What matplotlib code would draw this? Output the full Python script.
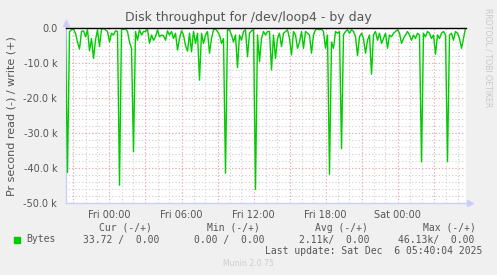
import numpy as np
import pandas as pd
import matplotlib
matplotlib.use("Agg")
import matplotlib.pyplot as plt

W, H = 497, 275

# 数据：读 (负) 吞吐量，单位 k，每 10 分钟一个点
start = "2025-12-04 20:20"
read_k = [
    -0.5, -41.3, -1.0, -0.5, -0.3, -1.5, -4.0, -6.0, -1.0, -0.8,
    -2.5, -0.5, -6.5, -3.0, -8.7, -3.5, -0.5, -5.3, -0.3, -0.2,
    -0.5, -1.0, -4.0, -1.5, -2.0, -0.8, -1.0, -44.9, -0.3, -0.4,
    -0.2, -1.0, -4.0, -5.8, -35.3, -1.0, -3.5, -0.5, -2.0, -1.0,
    -1.0, -0.3, -4.4, -2.0, -3.5, -2.5, -0.5, -2.5, -2.0, -2.2,
    -3.5, -0.8, -2.0, -1.0, -3.0, -1.5, -6.3, -3.0, -0.8, -2.0,
    -5.0, -6.6, -1.5, -6.8, -1.0, -4.4, -1.5, -14.9, -1.5, -4.4,
    -2.0, -1.0, -7.2, -3.0, -0.5, -0.3, -1.0, -2.0, -4.4, -3.0,
    -41.5, -0.5, -0.5, -2.0, -4.0, -2.0, -11.3, -2.0, -3.5, -1.0,
    -0.5, -8.2, -1.5, -0.8, -0.5, -46.1, -2.0, -9.6, -3.0, -1.0,
    -2.0, -1.0, -1.0, -12.0, -2.0, -8.7, -3.0, -1.5, -5.3, -1.5,
    -1.0, -0.5, -3.0, -7.7, -1.0, -2.0, -5.8, -4.0, -1.0, -5.8,
    -1.0, -1.5, -2.0, -7.2, -2.0, -0.5, -0.3, -0.5, -0.3, -1.0,
    -5.8, -2.0, -41.8, -4.0, -5.8, -1.0, -1.5, -1.0, -34.5, -2.0,
    -1.0, -0.5, -1.5, -0.5, -1.0, -2.5, -7.9, -2.5, -1.5, -3.0,
    -7.2, -3.5, -2.0, -13.2, -2.0, -1.0, -3.5, -1.5, -4.4, -3.0,
    -1.5, -5.8, -2.0, -2.5, -1.5, -1.0, -0.5, -1.5, -4.4, -3.0,
    -2.0, -1.0, -2.0, -3.5, -2.0, -3.0, -1.5, -2.0, -38.2, -1.5,
    -2.5, -1.0, -1.5, -3.0, -2.0, -7.5, -2.0, -3.0, -1.5, -1.0,
    -2.0, -38.2, -2.0, -1.5, -3.5, -1.0, -1.5, -3.0, -5.8, -3.0,
    -0.03,
]
times = pd.date_range(start=start, periods=len(read_k), freq="10min")

x_labels = ["Fri 00:00", "Fri 06:00", "Fri 12:00", "Fri 18:00", "Sat 00:00"]
x_label_times = pd.to_datetime(["2025-12-05 00:00", "2025-12-05 06:00", "2025-12-05 12:00",
                                "2025-12-05 18:00", "2025-12-06 00:00"])
y_ticks = [-50, -40, -30, -20, -10, 0]
y_labels = ["-50.0 k", "-40.0 k", "-30.0 k", "-20.0 k", "-10.0 k", "0.0"]

legend_head = ["Cur (-/+)", "Min (-/+)", "Avg (-/+)", "Max (-/+)"]
legend_vals = ["33.72 /  0.00", "0.00 /  0.00", "2.11k/  0.00", "46.13k/  0.00"]
last_update = "Last update: Sat Dec  6 05:40:04 2025"

fig = plt.figure(figsize=(W / 100, H / 100), dpi=100, facecolor="#f0f0f0")
ax = fig.add_axes([65.5 / W, 72 / H, 400 / W, 175 / H])
ax.set_facecolor("white")
for s in ax.spines.values():
    s.set_visible(False)

t0, t1 = times[0], times[-1]
ax.set_xlim(t0, t1)
ax.set_ylim(-50, 0)

# 网格
minor_x = pd.date_range("2025-12-04 21:00", t1, freq="1h")
major_x = pd.date_range("2025-12-04 21:00", t1, freq="3h")
ax.vlines(minor_x, -50, 0, colors="#d0d0d0", linestyles=(0, (1, 2)), lw=0.8, zorder=1)
ax.hlines(np.arange(-48, 0, 2), t0, t1, colors="#d0d0d0", linestyles=(0, (1, 2)), lw=0.8, zorder=1)
ax.vlines(major_x, -50, 0, colors="#f0a8a8", linestyles=(0, (1, 2)), lw=0.8, zorder=1.5)
ax.hlines(y_ticks[1:-1], t0, t1, colors="#f0a8a8", linestyles=(0, (1, 2)), lw=0.8, zorder=1.5)

# 数据线
ax.plot(times, read_k, color="#00cc00", lw=1.0, zorder=3)
ax.axhline(0, color="black", lw=1.0, zorder=4, clip_on=False)

# 坐标轴线和箭头
axis_col = "#ccccff"
ax.plot([0, 1.012], [0, 0], transform=ax.transAxes, color=axis_col, lw=1, clip_on=False, zorder=2)
ax.plot([0, 0], [0, 1.03], transform=ax.transAxes, color=axis_col, lw=1, clip_on=False, zorder=2)
ax.plot([1.012], [0], transform=ax.transAxes, marker=">", ms=4, color=axis_col, clip_on=False, zorder=2)
ax.plot([0], [1.03], transform=ax.transAxes, marker="^", ms=4, color=axis_col, clip_on=False, zorder=2)

ax.set_xticks(x_label_times)
ax.set_xticklabels(x_labels)
ax.set_yticks(y_ticks)
ax.set_yticklabels(y_labels)
ax.tick_params(length=0, labelsize=7, colors="#555555", pad=6)
ax.tick_params(axis="x", pad=5)

fig.text(248 / W, 1 - 18 / H, "Disk throughput for /dev/loop4 - by day",
         ha="center", va="center", fontsize=9, color="#555555")
fig.text(12 / W, 1 - 116 / H, "Pr second read (-) / write (+)", rotation=90,
         ha="center", va="center", fontsize=8, color="#555555")
fig.text(488 / W, 1 - 58 / H, "RRDTOOL / TOBI OETIKER", rotation=270,
         ha="center", va="center", fontsize=5.6, color="#c8c8c8")

# 图例
mono = "DejaVu Sans Mono"
head_x = [98.7, 206.7, 315, 422.7]
val_x = [83, 194, 299.3, 398.3]
for hx, txt in zip(head_x, legend_head):
    fig.text(hx / W, 1 - 228 / H, txt, ha="left", va="center", fontsize=7, family=mono, color="#555555")
fig.patches.append(plt.Rectangle((14 / W, 1 - 243 / H), 6 / W, 6 / H, transform=fig.transFigure,
                                 color="#00cc00"))
fig.text(26 / W, 1 - 239.5 / H, "Bytes", ha="left", va="center", fontsize=7, family=mono, color="#555555")
for vx, txt in zip(val_x, legend_vals):
    fig.text(vx / W, 1 - 239.5 / H, txt, ha="left", va="center", fontsize=7, family=mono, color="#555555")
fig.text(482.3 / W, 1 - 251 / H, last_update, ha="right", va="center", fontsize=7, family=mono, color="#555555")
fig.text(248 / W, 1 - 264 / H, "Munin 2.0.75", ha="center", va="center", fontsize=5.6, color="#cccccc")

fig.savefig("out.png", dpi=100, facecolor=fig.get_facecolor())
